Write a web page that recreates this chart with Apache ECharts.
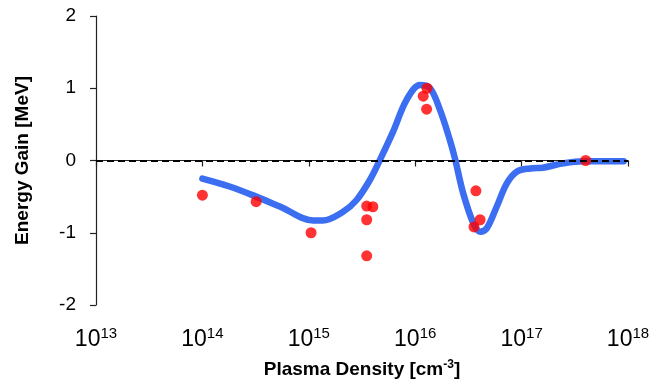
<!DOCTYPE html>
<html>
<head>
<meta charset="utf-8">
<script src="https://cdn.jsdelivr.net/npm/echarts@6/dist/echarts.min.js"></script>
<style>
  html, body { margin: 0; padding: 0; background: #fff; }
  #chart { width: 649px; height: 383px; }
</style>
</head>
<body>
<div id="chart"></div>
<script>
// simulated curve: [density, gain]
const curveX = [1e14, 1.8e14, 3.2e14, 5.4e14, 1.1e15, 1.35e15, 2.1e15, 2.8e15, 3.75e15, 4.7e15,
  6.2e15, 8.3e15, 1.11e16, 1.38e16, 1.71e16, 2.12e16, 2.37e16, 2.82e16, 3.52e16, 4.07e16,
  4.7e16, 5.83e16, 7.24e16, 9.0e16, 1.2e17, 1.58e17, 2.45e17, 3.8e17, 9.1e17];
const curveY = [-0.25, -0.36, -0.5, -0.64, -0.83, -0.83, -0.71, -0.55, -0.27, 0.02,
  0.40, 0.84, 1.045, 1.0, 0.70, 0.28, 0.02, -0.45, -0.87, -0.985,
  -0.94, -0.64, -0.32, -0.155, -0.11, -0.1, -0.04, -0.01, -0.01];

// measured points
const dotX = [1e14, 3.2e14, 1.05e15, 3.5e15, 4.0e15, 3.5e15, 3.5e15, 1.19e16, 1.29e16, 1.28e16,
  3.72e16, 3.57e16, 4.07e16, 4.0e17];
const dotY = [-0.48, -0.57, -1.0, -0.63, -0.64, -0.82, -1.32, 0.89, 1.0, 0.71,
  -0.42, -0.92, -0.82, 0.0];

const yTicks = [-2, -1, 0, 1, 2];
const xExponents = [13, 14, 15, 16, 17, 18];

const curve = curveX.map((x, i) => [x, curveY[i]]);
const dots = dotX.map((x, i) => [x, dotY[i]]);

const chart = echarts.init(document.getElementById('chart'));
const font = 'Liberation Sans, Arial, Helvetica, sans-serif';

chart.setOption({
  animation: false,
  grid: { left: 96, right: 21, top: 16, bottom: 78, outerBoundsMode: 'none' },
  xAxis: {
    type: 'log',
    logBase: 10,
    min: 1e13,
    max: 1e18,
    name: 'Plasma Density [cm{sup|-3}]',
    nameLocation: 'middle',
    nameGap: 54,
    nameTextStyle: {
      fontFamily: font, fontSize: 19, fontWeight: 'bold', color: '#000',
      rich: { sup: { fontFamily: font, fontSize: 12, fontWeight: 'bold', verticalAlign: 'top', padding: [0, 0, 10, 0] } }
    },
    axisLine: { lineStyle: { color: '#222', width: 1.2 } },
    axisTick: { length: 6, lineStyle: { color: '#222', width: 1.2 } },
    splitLine: { show: false },
    minorTick: { show: false },
    axisLabel: {
      margin: 21,
      color: '#000',
      fontFamily: font,
      fontSize: 23,
      formatter: (v) => {
        const e = Math.round(Math.log10(v));
        return xExponents.includes(e) ? '10{sup|' + e + '}' : '';
      },
      rich: { sup: { fontFamily: font, fontSize: 15, verticalAlign: 'top', padding: [0, 0, 12, 0] } }
    }
  },
  yAxis: {
    type: 'value',
    min: yTicks[0],
    max: yTicks[yTicks.length - 1],
    interval: 1,
    name: 'Energy Gain [MeV]',
    nameLocation: 'middle',
    nameGap: 64,
    nameTextStyle: { fontFamily: font, fontSize: 19, fontWeight: 'bold', color: '#000' },
    axisLine: { show: true, lineStyle: { color: '#222', width: 1.2 } },
    axisTick: { show: true, length: 6, lineStyle: { color: '#222', width: 1.2 } },
    splitLine: { show: false },
    axisLabel: { margin: 20, color: '#000', fontFamily: font, fontSize: 19 }
  },
  series: [
    {
      type: 'line',
      data: curve,
      smooth: 0.35,
      symbol: 'none',
      lineStyle: { color: '#3b6ef0', width: 6.5, cap: 'round', join: 'round' },
      z: 2
    },
    {
      type: 'scatter',
      data: dots,
      symbolSize: 11,
      itemStyle: { color: '#ff0000' },
      z: 3,
      markLine: {
        silent: true,
        symbol: 'none',
        label: { show: false },
        lineStyle: { color: '#000', type: [7, 4], width: 2 },
        data: [{ yAxis: 0 }]
      }
    }
  ]
});
</script>
</body>
</html>
